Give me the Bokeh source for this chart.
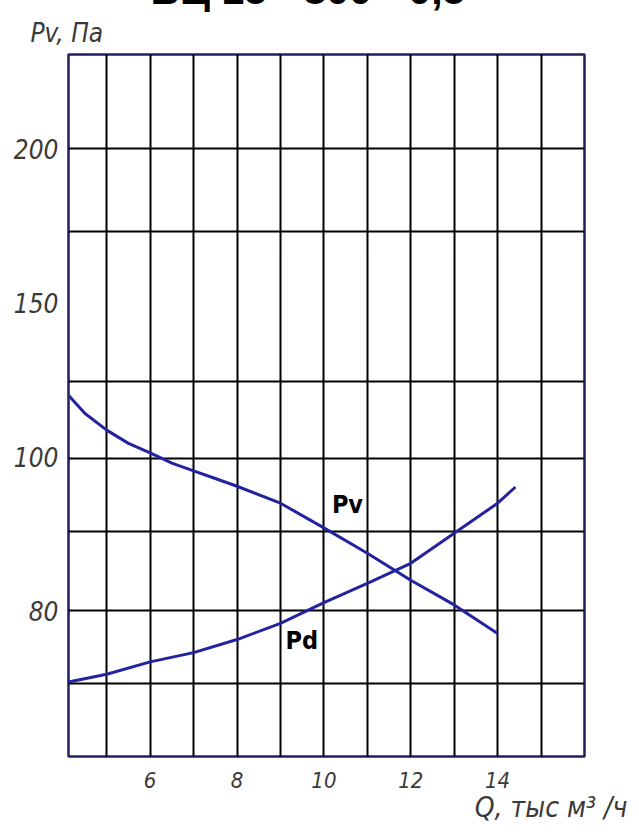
import numpy as np
from bokeh.plotting import figure
from bokeh.models import Range1d, FixedTicker, Label, Title
from bokeh.embed import file_html
from bokeh.resources import INLINE

# ---- data ----
title_text = "ВЦ 15 - 800 - 0,5"
y_label = "Pv, Па"
x_label = "Q, тыс м³ /ч"

x_tick_values = [6, 8, 10, 12, 14]
y_tick_values = [80, 100, 150, 200]          # non-uniform labelled scale, evenly spaced on paper

q_pv = [4.12, 4.5, 5, 5.5, 6, 6.5, 7, 7.5, 8, 9, 10, 11, 12, 13, 14]
pv = [120.0, 114.1, 108.7, 104.4, 101.3, 99.2, 98.2, 97.2, 96.2, 94.0, 90.8, 87.5, 84.0, 80.8, 77.1]

q_pd = [4.12, 5, 6, 7, 8, 9, 10, 11, 12, 13, 14, 14.41]
pd_vals = [70.8, 71.8, 73.4, 74.6, 76.3, 78.4, 81.1, 83.6, 86.2, 90.1, 94.0, 96.1]

# ---- the printed scale: each labelled value sits on an evenly spaced level ----
levels = list(range(1, len(y_tick_values) + 1))


def pa_to_level(v):
    v = np.asarray(v, dtype=float)
    lvl = np.interp(v, y_tick_values, levels)
    below = v < y_tick_values[0]
    step = y_tick_values[1] - y_tick_values[0]
    lvl[below] = levels[0] - (y_tick_values[0] - v[below]) / step
    return lvl


NARROW = "'DejaVu Sans Condensed', 'DejaVu Sans', sans-serif"
BOLD = "'Liberation Sans', Arial, sans-serif"
LABEL_GRAY = "#3a3a3a"
SHIFT = 36  # the figure is pulled up so that only the foot of the title shows

p = figure(title=None, width=632, height=832 + SHIFT - 2,
           x_range=Range1d(4.12, 16), y_range=Range1d(0.056, 4.612),
           output_backend="svg", toolbar_location=None,
           min_border_left=68, min_border_right=48,
           min_border_top=54 + SHIFT, min_border_bottom=74,
           background_fill_color="white", border_fill_color="white",
           styles={"margin-top": f"-{SHIFT}px"})

p.outline_line_color = "#1f1f60"
p.outline_line_width = 2.5
p.outline_line_alpha = 1.0

p.xgrid.ticker = FixedTicker(ticks=list(range(5, 16)))
p.ygrid.ticker = FixedTicker(ticks=[0.531, 1.002, 1.519, 1.990, 2.492, 3.466, 4.0])
for g in (p.xgrid, p.ygrid):
    g.grid_line_color = "black"
    g.grid_line_width = 2
    g.grid_line_alpha = 1.0

p.xaxis.ticker = FixedTicker(ticks=x_tick_values)
p.yaxis.ticker = FixedTicker(ticks=levels)
p.yaxis.major_label_overrides = {lv: str(v) for lv, v in zip(levels, y_tick_values)}
for ax, size in ((p.xaxis, "22px"), (p.yaxis, "26px")):
    ax.axis_line_color = None
    ax.major_tick_line_color = None
    ax.minor_tick_line_color = None
    ax.major_label_text_font = NARROW
    ax.major_label_text_font_style = "italic"
    ax.major_label_text_font_size = size
    ax.major_label_text_color = LABEL_GRAY
p.xaxis.major_label_standoff = 9
p.yaxis.major_label_standoff = 4

curve_color = "#2323a0"
p.line(q_pv, pa_to_level(pv), line_color=curve_color, line_width=3, line_join="round")
p.line(q_pd, pa_to_level(pd_vals), line_color=curve_color, line_width=3, line_join="round")

i_pv = q_pv.index(10)
p.add_layout(Label(x=q_pv[i_pv], y=float(pa_to_level([pv[i_pv]])[0]), x_offset=8, y_offset=23,
                   text="Pv", text_font=NARROW, text_font_style="bold",
                   text_font_size="25px", text_color="black", text_baseline="alphabetic"))
i_pd = q_pd.index(9)
p.add_layout(Label(x=q_pd[i_pd], y=float(pa_to_level([pd_vals[i_pd]])[0]), x_offset=5, y_offset=-17,
                   text="Pd", text_font=NARROW, text_font_style="bold",
                   text_font_size="25px", text_color="black", text_baseline="alphabetic"))

# axis names and the (cut-off) chart title, stacked outward from the frame
p.add_layout(Title(text=y_label, align="left", offset=-38, standoff=10, vertical_align="top",
                   text_font=NARROW, text_font_style="italic", text_font_size="26px",
                   text_color=LABEL_GRAY), "above")
p.add_layout(Title(text=title_text, align="left", offset=82, standoff=0, vertical_align="bottom",
                   text_font=BOLD, text_font_style="bold", text_font_size="41px",
                   text_color="black"), "above")
p.add_layout(Title(text=x_label, align="right", offset=-43, standoff=0, vertical_align="top",
                   text_font=NARROW, text_font_style="italic", text_font_size="28px",
                   text_color=LABEL_GRAY), "below")

open("out.html", "w").write(file_html(p, INLINE))
